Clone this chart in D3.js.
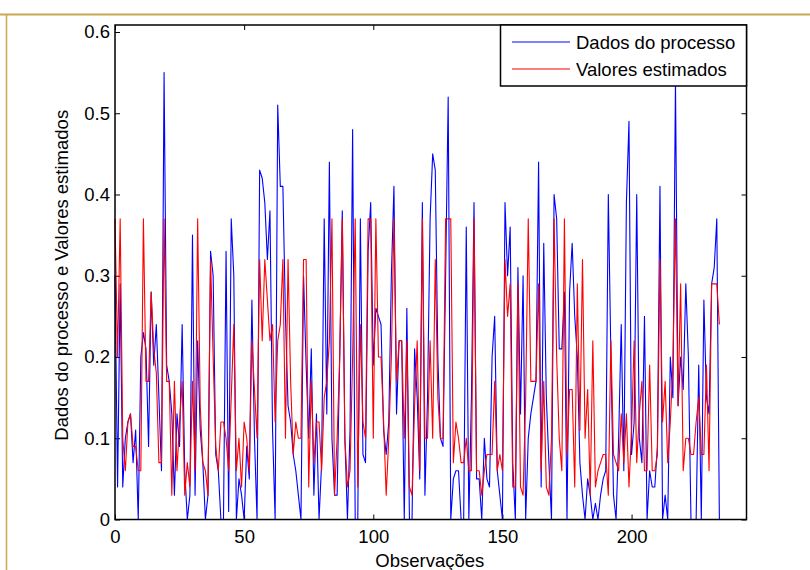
<!DOCTYPE html>
<html>
<head>
<meta charset="utf-8">
<script src="https://cdn.jsdelivr.net/npm/d3@7"></script>
<style>
  html, body { margin: 0; padding: 0; background: #fff; }
  svg { display: block; }
  text { font-family: "Liberation Sans", Arial, sans-serif; fill: #000; }
</style>
</head>
<body>
<svg id="chart" width="810" height="570"></svg>
<script>
// Process measurements (blue) and model estimates (red), one value per observation
const dadosProcesso = [
  0.30,0.04,0.29,0.04,0.10,0.12,0.13,0.07,0.11,0.00,
  0.20,0.23,0.21,0.09,0.28,0.19,0.24,0.15,0.06,0.55,
  0.19,0.17,0.13,0.03,0.13,0.09,0.24,0.06,0.00,0.03,
  0.35,0.03,0.22,0.11,0.07,0.00,0.03,0.33,0.30,0.08,
  0.06,0.00,0.00,0.33,0.01,0.37,0.30,0.00,0.05,0.03,
  0.00,0.09,0.05,0.27,0.10,0.00,0.43,0.42,0.39,0.32,
  0.38,0.11,0.00,0.51,0.41,0.41,0.25,0.14,0.12,0.08,
  0.06,0.03,0.00,0.30,0.19,0.10,0.21,0.03,0.13,0.00,
  0.07,0.37,0.13,0.44,0.10,0.03,0.03,0.20,0.38,0.10,
  0.00,0.11,0.48,0.00,0.00,0.37,0.08,0.07,0.33,0.39,
  0.19,0.26,0.25,0.24,0.11,0.08,0.12,0.30,0.41,0.13,
  0.22,0.22,0.00,0.26,0.00,0.00,0.21,0.15,0.05,0.39,
  0.03,0.15,0.37,0.45,0.43,0.20,0.10,0.09,0.30,0.52,
  0.00,0.05,0.06,0.06,0.00,0.00,0.36,0.00,0.15,0.39,
  0.05,0.05,0.00,0.10,0.05,0.04,0.20,0.25,0.06,0.03,
  0.00,0.39,0.30,0.36,0.07,0.00,0.31,0.13,0.30,0.00,
  0.10,0.13,0.15,0.17,0.44,0.04,0.34,0.15,0.07,0.00,
  0.40,0.37,0.21,0.21,0.28,0.00,0.28,0.34,0.25,0.20,
  0.07,0.03,0.00,0.05,0.03,0.00,0.02,0.00,0.03,0.05,
  0.06,0.40,0.20,0.03,0.00,0.10,0.24,0.06,0.39,0.49,
  0.08,0.12,0.40,0.10,0.07,0.25,0.00,0.06,0.04,0.04,
  0.09,0.41,0.00,0.03,0.00,0.20,0.15,0.54,0.14,0.20,
  0.16,0.29,0.20,0.00,0.00,0.00,0.19,0.00,0.27,0.15,
  0.13,0.29,0.31,0.37,0.00
];

const valoresEstimados = [
  0.37,0.20,0.37,0.10,0.06,0.12,0.13,0.09,0.09,0.06,
  0.06,0.37,0.17,0.17,0.28,0.21,0.18,0.07,0.07,0.37,
  0.17,0.17,0.03,0.17,0.06,0.12,0.17,0.03,0.07,0.04,
  0.17,0.06,0.37,0.14,0.07,0.06,0.03,0.32,0.20,0.09,
  0.06,0.12,0.12,0.10,0.06,0.15,0.24,0.06,0.10,0.04,
  0.12,0.10,0.06,0.22,0.16,0.10,0.32,0.22,0.32,0.27,
  0.22,0.24,0.12,0.22,0.24,0.32,0.10,0.32,0.17,0.08,
  0.12,0.10,0.10,0.32,0.32,0.04,0.17,0.07,0.12,0.12,
  0.06,0.15,0.17,0.22,0.37,0.03,0.10,0.20,0.37,0.10,
  0.04,0.06,0.20,0.37,0.04,0.24,0.12,0.10,0.37,0.37,
  0.10,0.37,0.20,0.20,0.12,0.03,0.10,0.20,0.37,0.17,
  0.22,0.22,0.10,0.22,0.04,0.03,0.14,0.22,0.06,0.37,
  0.10,0.10,0.22,0.10,0.32,0.15,0.10,0.10,0.37,0.37,
  0.37,0.07,0.12,0.10,0.07,0.07,0.10,0.06,0.06,0.37,
  0.06,0.06,0.03,0.06,0.08,0.08,0.08,0.17,0.06,0.08,
  0.06,0.32,0.25,0.29,0.04,0.04,0.29,0.04,0.03,0.15,
  0.37,0.17,0.17,0.17,0.29,0.06,0.17,0.04,0.03,0.10,
  0.37,0.20,0.10,0.06,0.37,0.08,0.16,0.16,0.04,0.29,
  0.11,0.32,0.10,0.16,0.03,0.22,0.04,0.06,0.07,0.08,
  0.08,0.03,0.22,0.08,0.07,0.06,0.13,0.07,0.13,0.04,
  0.11,0.22,0.07,0.13,0.17,0.06,0.06,0.19,0.06,0.06,
  0.08,0.32,0.12,0.17,0.07,0.12,0.19,0.37,0.14,0.29,
  0.06,0.10,0.10,0.08,0.08,0.12,0.15,0.08,0.08,0.19,
  0.06,0.29,0.29,0.29,0.24
];

const xTicks = [0, 50, 100, 150, 200];
const yTicks = [0, 0.1, 0.2, 0.3, 0.4, 0.5, 0.6];
const seriesNames = ["Dados do processo", "Valores estimados"];
const seriesColors = ["#0000ff", "#ff0000"];

const svg = d3.select("#chart");
const plot = { left: 115, right: 746.5, top: 25, bottom: 519.5 };

// Page frame lines
svg.append("line").attr("x1", 0).attr("x2", 810).attr("y1", 14.5).attr("y2", 14.5)
  .attr("stroke", "#c9a84e").attr("stroke-width", 2);
svg.append("line").attr("x1", 6.5).attr("x2", 6.5).attr("y1", 14).attr("y2", 570)
  .attr("stroke", "#c9a84e").attr("stroke-width", 1.5);

const x = d3.scaleLinear().domain([0, 244.5]).range([plot.left, plot.right]);
const y = d3.scaleLinear().domain([0, 0.6086]).range([plot.bottom, plot.top]);

const fmtY = d => d === 0 ? "0" : d3.format(".1f")(d);

// Axes with inward ticks on all four sides
const gx = svg.append("g").attr("transform", `translate(0,${plot.bottom})`)
  .call(d3.axisBottom(x).tickValues(xTicks).tickSizeInner(-5).tickSizeOuter(0).tickPadding(10));
const gxTop = svg.append("g").attr("transform", `translate(0,${plot.top})`)
  .call(d3.axisTop(x).tickValues(xTicks).tickSizeInner(-5).tickSizeOuter(0).tickFormat(""));
const gy = svg.append("g").attr("transform", `translate(${plot.left},0)`)
  .call(d3.axisLeft(y).tickValues(yTicks).tickFormat(fmtY).tickSizeInner(-5).tickSizeOuter(0).tickPadding(5));
const gyRight = svg.append("g").attr("transform", `translate(${plot.right},0)`)
  .call(d3.axisRight(y).tickValues(yTicks).tickSizeInner(-5).tickSizeOuter(0).tickFormat(""));

[gx, gxTop, gy, gyRight].forEach(g => {
  g.select(".domain").remove();
  g.selectAll(".tick line").attr("stroke", "#000").attr("stroke-width", 1);
  g.selectAll("text").style("font-family", '"Liberation Sans", Arial, sans-serif')
    .style("font-size", "18.5px").attr("fill", "#000");
});

// Data lines
const line = d3.line().x((d, i) => x(i)).y(d => y(d));
[dadosProcesso, valoresEstimados].forEach((s, k) => {
  svg.append("path").datum(s)
    .attr("fill", "none")
    .attr("stroke", seriesColors[k])
    .attr("stroke-width", 1.1)
    .attr("stroke-linejoin", "round")
    .attr("d", line);
});

// Axes box
svg.append("rect")
  .attr("x", plot.left).attr("y", plot.top)
  .attr("width", plot.right - plot.left).attr("height", plot.bottom - plot.top)
  .attr("fill", "none").attr("stroke", "#000").attr("stroke-width", 1.5);

// Axis titles
svg.append("text").attr("x", (plot.left + plot.right) / 2 - 1).attr("y", 567)
  .attr("text-anchor", "middle").style("font-size", "18.5px").text("Observações");
svg.append("text")
  .attr("transform", `translate(68,${(plot.top + plot.bottom) / 2 + 3}) rotate(-90)`)
  .attr("text-anchor", "middle").style("font-size", "18.5px")
  .text("Dados do processo e Valores estimados");

// Legend
const legend = svg.append("g");
legend.append("rect").attr("x", 500.5).attr("y", 25).attr("width", 246).attr("height", 61)
  .attr("fill", "#fff").attr("stroke", "#000").attr("stroke-width", 1.5);
seriesNames.forEach((name, k) => {
  const ly = 42 + k * 27;
  legend.append("line").attr("x1", 512).attr("x2", 570).attr("y1", ly).attr("y2", ly)
    .attr("stroke", seriesColors[k]).attr("stroke-width", 1.1);
  legend.append("text").attr("x", 576).attr("y", ly + 6.5)
    .style("font-size", "18.5px").text(name);
});
</script>
</body>
</html>
